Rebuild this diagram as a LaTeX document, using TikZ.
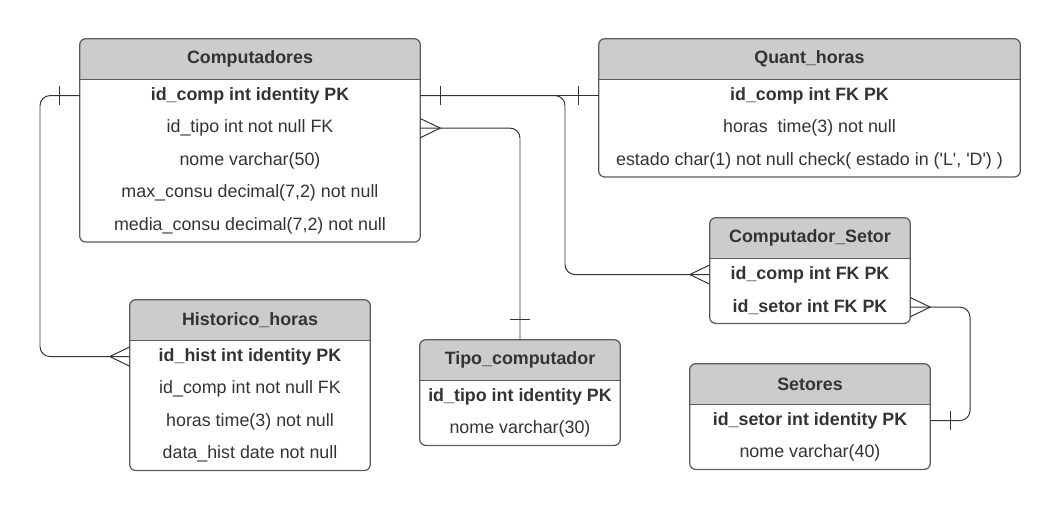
\documentclass[tikz,border=0pt]{standalone}
\usepackage{fontspec}
\setmainfont{Liberation Sans}
\usepackage{xcolor}
\usepackage{tikz}
\usetikzlibrary{positioning,calc,backgrounds}
\definecolor{headgray}{HTML}{CCCCCC}
\definecolor{framegray}{HTML}{5C5C5C}
\definecolor{inkgray}{HTML}{333333}
\newcommand{\tabframe}[2]{%
  \begin{scope}[on background layer]
    \begin{scope}
      \clip[rounded corners=0.15cm] (#1.north west) rectangle (#2.south east);
      \fill[headgray] (#1.north west) rectangle (#1.south east);
    \end{scope}
  \end{scope}
  \draw[tabline, rounded corners=0.15cm] (#1.north west) rectangle (#2.south east);
  \draw[tabline] (#1.south west) -- (#1.south east);}
\newcommand{\onemark}[2]{%
  \draw[relline] ($(#1)+(#2:0.5)+(#2+90:0.24)$) -- ($(#1)+(#2:0.5)+(#2-90:0.24)$);}
\newcommand{\manymark}[2]{%
  \draw[relline] ($(#1)+(#2+90:0.24)$) -- ($(#1)+(#2:0.5)$) -- ($(#1)+(#2-90:0.24)$);}

\begin{document}
\begin{tikzpicture}[
  every node/.style={font=\fontsize{12.7pt}{15pt}\selectfont, text=inkgray},
  tabhead/.style={minimum width=#1, minimum height=1cm, inner sep=0pt,
                  font=\fontsize{12.7pt}{15pt}\selectfont\bfseries},
  tabrow/.style={minimum width=#1, minimum height=0.8cm, inner sep=0pt},
  keyrow/.style={tabrow=#1, font=\fontsize{12.7pt}{15pt}\selectfont\bfseries},
  tabline/.style={draw=framegray, line width=0.9pt},
  relline/.style={draw=inkgray, line width=0.7pt}
]
  \useasboundingbox (0,0) rectangle (26.525,-12.7);

  \node[tabhead=8.5cm] (comp) at (6.25,-1.475) {Computadores};
  \node[keyrow=8.5cm, below=0pt of comp] (comp-r1) {id\_comp int identity PK};
  \node[tabrow=8.5cm, below=0pt of comp-r1] (comp-r2) {id\_tipo int not null FK};
  \node[tabrow=8.5cm, below=0pt of comp-r2] (comp-r3) {nome varchar(50)};
  \node[tabrow=8.5cm, below=0pt of comp-r3] (comp-r4) {max\_consu decimal(7,2) not null};
  \node[tabrow=8.5cm, below=0pt of comp-r4] (comp-r5) {media\_consu decimal(7,2) not null};
  \tabframe{comp}{comp-r5}

  \node[tabhead=10.525cm] (quant) at (20.2375,-1.475) {Quant\_horas};
  \node[keyrow=10.525cm, below=0pt of quant] (quant-r1) {id\_comp int FK PK};
  \node[tabrow=10.525cm, below=0pt of quant-r1] (quant-r2) {horas~ time(3) not null};
  \node[tabrow=10.525cm, below=0pt of quant-r2] (quant-r3)
    {estado char(1) not null check( estado in (\textquotesingle L\textquotesingle, \textquotesingle D\textquotesingle) )};
  \tabframe{quant}{quant-r3}

  \node[tabhead=5cm] (cs) at (20.25,-5.95) {Computador\_Setor};
  \node[keyrow=5cm, below=0pt of cs] (cs-r1) {id\_comp int FK PK};
  \node[keyrow=5cm, below=0pt of cs-r1] (cs-r2) {id\_setor int FK PK};
  \tabframe{cs}{cs-r2}

  \node[tabhead=6cm] (hist) at (6.25,-8.0) {Historico\_horas};
  \node[keyrow=6cm, below=0pt of hist] (hist-r1) {id\_hist int identity PK};
  \node[tabrow=6cm, below=0pt of hist-r1] (hist-r2) {id\_comp int not null FK};
  \node[tabrow=6cm, below=0pt of hist-r2] (hist-r3) {horas time(3) not null};
  \node[tabrow=6cm, below=0pt of hist-r3] (hist-r4) {data\_hist date not null};
  \tabframe{hist}{hist-r4}

  \node[tabhead=5cm] (tipo) at (13.0,-9.0) {Tipo\_computador};
  \node[keyrow=5cm, below=0pt of tipo] (tipo-r1) {id\_tipo int identity PK};
  \node[tabrow=5cm, below=0pt of tipo-r1] (tipo-r2) {nome varchar(30)};
  \tabframe{tipo}{tipo-r2}

  \node[tabhead=6cm] (set) at (20.25,-9.6) {Setores};
  \node[keyrow=6cm, below=0pt of set] (set-r1) {id\_setor int identity PK};
  \node[tabrow=6cm, below=0pt of set-r1] (set-r2) {nome varchar(40)};
  \tabframe{set}{set-r2}

  \coordinate (histbus) at (1.0,-5);
  \coordinate (csbus) at (14.125,-4.5);
  \coordinate (setbus) at (24.25,-9);

  \draw[relline, rounded corners=0.25cm] (comp-r1.west) -| (histbus) |- (hist-r1.west);
  \draw[relline] (comp-r1.east) -- (quant-r1.west);
  \draw[relline, rounded corners=0.25cm] (comp-r1.east) -| (csbus) |- (cs-r1.west);
  \draw[relline, rounded corners=0.25cm] (comp-r2.east) -| (tipo.north);
  \draw[relline, rounded corners=0.25cm] (cs-r2.east) -| (setbus) |- (set-r1.east);

  \onemark{comp-r1.west}{180}
  \onemark{comp-r1.east}{0}
  \onemark{quant-r1.west}{180}
  \onemark{tipo.north}{90}
  \onemark{set-r1.east}{0}
  \manymark{hist-r1.west}{180}
  \manymark{comp-r2.east}{0}
  \manymark{cs-r1.west}{180}
  \manymark{cs-r2.east}{0}
\end{tikzpicture}
\end{document}
